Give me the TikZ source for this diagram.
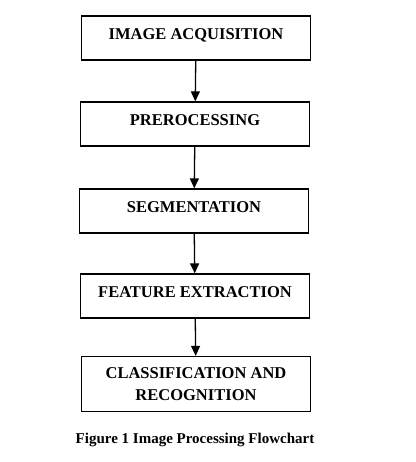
\documentclass[tikz,border=0pt]{standalone}
\usepackage{fontspec}
\setmainfont{Liberation Serif}
\usetikzlibrary{arrows.meta}
\tikzset{stage/.style={draw,line width=1.3pt,minimum width=229pt,minimum height=44pt,align=center,font=\fontsize{16.5}{22}\selectfont\bfseries},
  oneline/.style={text depth=8pt},
  flow/.style={line width=1.3pt,-{Triangle[length=10pt,width=9pt]}}}
\begin{document}
\begin{tikzpicture}[x=1pt,y=-1pt]
\useasboundingbox (0,0) rectangle (415,462);
\node[stage,oneline] (acq) at (196,38) {IMAGE ACQUISITION};
\node[stage,oneline] (pre) at (195,124) {PREROCESSING};
\node[stage,oneline] (seg) at (194,211) {SEGMENTATION};
\node[stage,oneline] (fea) at (195,296) {FEATURE EXTRACTION};
\node[stage,minimum height=55pt] (cls) at (196,384) {CLASSIFICATION AND\\RECOGNITION};
\foreach \a/\b in {acq/pre,pre/seg,seg/fea,fea/cls} \draw[flow] (\a) -- (\b);
\node[font=\fontsize{15}{18}\selectfont\bfseries] (cap) at (195,440) {Figure 1 Image Processing Flowchart};
\end{tikzpicture}
\end{document}
